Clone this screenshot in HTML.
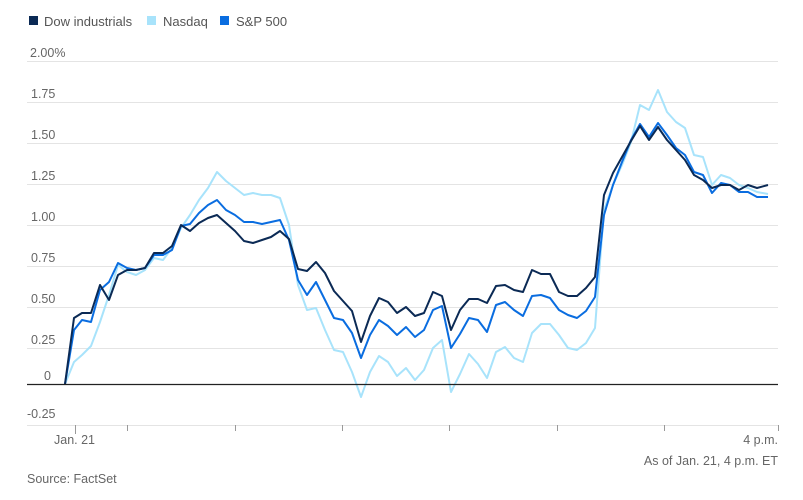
<!DOCTYPE html>
<html><head><meta charset="utf-8"><style>
body{margin:0;background:#fff;width:803px;height:500px;overflow:hidden}
svg{display:block;font-family:"Liberation Sans",sans-serif}
</style></head><body>
<svg width="803" height="500" viewBox="0 0 803 500">
<g font-size="13" fill="#555">
<rect x="29" y="16" width="9" height="9" fill="#0b2a55"/><text x="44" y="26">Dow industrials</text>
<rect x="147" y="16" width="9" height="9" fill="#a8e3fb"/><text x="163" y="26">Nasdaq</text>
<rect x="220" y="16" width="9" height="9" fill="#0a6de0"/><text x="236" y="26">S&amp;P 500</text>
</g>
<g stroke="#e4e4e4" stroke-width="1">
<line x1="27" x2="778" y1="61.5" y2="61.5"/><line x1="27" x2="778" y1="102.5" y2="102.5"/>
<line x1="27" x2="778" y1="143.5" y2="143.5"/><line x1="27" x2="778" y1="184.5" y2="184.5"/>
<line x1="27" x2="778" y1="225.5" y2="225.5"/><line x1="27" x2="778" y1="266.5" y2="266.5"/>
<line x1="27" x2="778" y1="307.5" y2="307.5"/><line x1="27" x2="778" y1="348.5" y2="348.5"/>
<line x1="27" x2="778" y1="425.5" y2="425.5"/>
</g>
<g stroke="#999"><line x1="75.5" x2="75.5" y1="425" y2="434"/><line x1="127.5" x2="127.5" y1="425" y2="431"/><line x1="235.5" x2="235.5" y1="425" y2="431"/><line x1="342.5" x2="342.5" y1="425" y2="431"/><line x1="449.5" x2="449.5" y1="425" y2="431"/><line x1="557.5" x2="557.5" y1="425" y2="431"/><line x1="664.5" x2="664.5" y1="425" y2="431"/><line x1="778.5" x2="778.5" y1="425" y2="431"/></g>
<g font-size="12.5" fill="#666">
<text x="30" y="57">2.00%</text><text x="31" y="98">1.75</text><text x="31" y="139">1.50</text><text x="31" y="180">1.25</text><text x="31" y="221">1.00</text><text x="31" y="262">0.75</text><text x="31" y="303">0.50</text><text x="31" y="344">0.25</text><text x="44" y="380">0</text><text x="27" y="418">-0.25</text>
<text x="54" y="444">Jan. 21</text><text x="778" y="444" text-anchor="end">4 p.m.</text>
<text x="778" y="465" text-anchor="end">As of Jan. 21, 4 p.m. ET</text>
<text x="27" y="483">Source: FactSet</text>
</g>
<g fill="none" stroke-width="2" stroke-linejoin="round">
<polyline stroke="#a8e3fb" points="65,384 74,362 82,355 91,346 100,322 109,295 118,265 127,272 136,275 145,270 154,258 163,260 172,248 181,228 190,215 199,200 208,188 217,172 226,181 235,188 244,195 253,193 262,195 271,195 280,198 289,225 298,285 307,310 316,308 325,330 334,350 343,352 352,372 361,397 370,372 379,356 388,362 397,376 406,368 415,380 424,370 433,348 442,340 451,392 460,374 469,354 478,364 487,378 496,352 505,347 514,358 523,362 532,333 541,324 550,324 559,335 568,348 577,350 586,343 595,328 604,210 613,185 622,165 631,142 640,105 649,110 658,90 667,112 676,122 685,128 694,155 703,157 712,185 721,175 730,178 739,185 748,188 757,192 768,194"/>
<polyline stroke="#0a6de0" points="65,384 74,330 82,320 91,322 100,290 109,282 118,263 127,268 136,270 145,268 154,255 163,255 172,250 181,226 190,224 199,213 208,205 217,200 226,210 235,215 244,222 253,222 262,224 271,222 280,220 289,240 298,280 307,295 316,282 325,300 334,318 343,320 352,333 361,358 370,335 379,320 388,326 397,335 406,327 415,337 424,330 433,310 442,306 451,348 460,334 469,318 478,320 487,332 496,305 505,302 514,310 523,316 532,296 541,295 550,298 559,310 568,315 577,318 586,311 595,297 604,215 613,185 622,162 631,140 640,124 649,137 658,123 667,135 676,148 685,155 694,172 703,175 712,193 721,183 730,185 739,192 748,192 757,197 768,197"/>
<polyline stroke="#0b2a55" points="65,384 74,318 82,313 91,313 100,285 109,300 118,275 127,270 136,270 145,268 154,253 163,253 172,246 181,225 190,231 199,223 208,218 217,215 226,223 235,231 244,241 253,243 262,240 271,237 280,231 289,239 298,269 307,271 316,262 325,273 334,291 343,301 352,311 361,342 370,316 379,298 388,302 397,313 406,307 415,316 424,313 433,292 442,296 451,330 460,310 469,299 478,299 487,303 496,286 505,285 514,290 523,292 532,270 541,274 550,274 559,292 568,296 577,296 586,288 595,277 604,195 613,173 622,157 631,141 640,126 649,140 658,127 667,140 676,150 685,160 694,175 703,180 712,188 721,185 730,185 739,190 748,185 757,188 768,185"/>
</g>
<line x1="27" x2="778" y1="384.5" y2="384.5" stroke="#222" stroke-width="1.2"/>
</svg>
</body></html>
